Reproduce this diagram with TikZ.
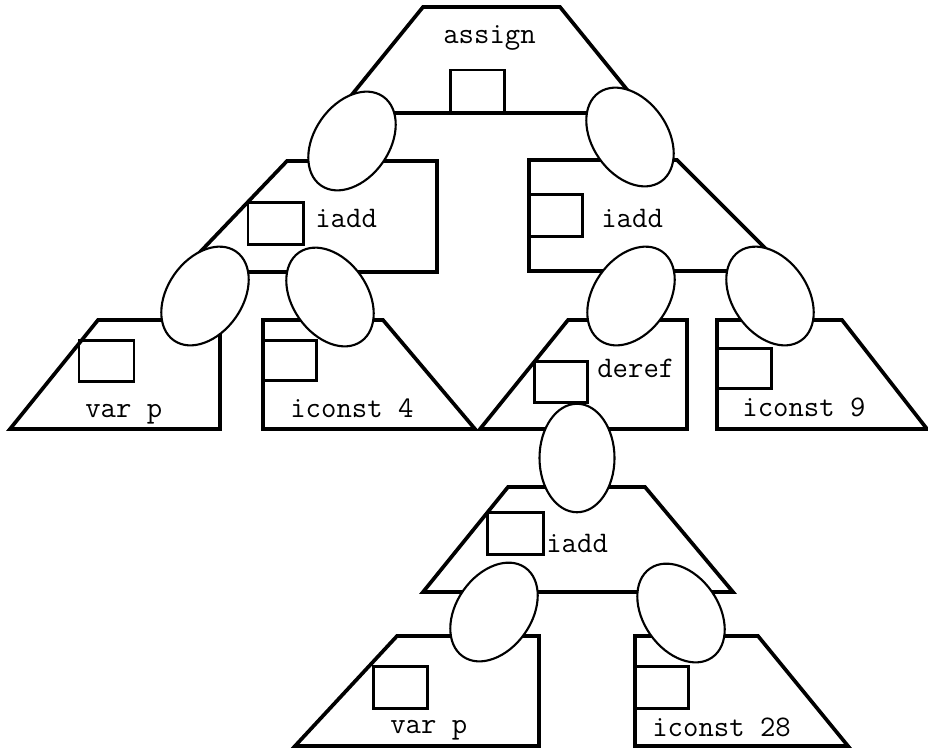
\documentclass[tikz,border=0pt]{standalone}
\usepackage{fontspec}
\usetikzlibrary{shapes.geometric}

\begin{document}
\begin{tikzpicture}[x=0.02cm, y=-0.02cm,
  frame/.style={line width=2.1pt, line join=miter},
  slot/.style={line width=1.7pt},
  link/.style={draw, ellipse, fill=white, line width=1.2pt, inner sep=0pt,
    minimum width=1.5cm, minimum height=2.17cm},
  lbl/.style={anchor=base west, inner sep=0pt,
    font=\ttfamily\fontsize{17}{19}\selectfont}]

  \useasboundingbox (0,0) rectangle (928,751);

  % Tree node outlines
  \foreach \a/\b/\c/\d in {
    {423,7}/{560,7}/{646,113}/{337,113},
    {287,161}/{437,161}/{437,272}/{181,272},
    {98,320}/{220,320}/{220,429}/{10,429},
    {263,320}/{383,320}/{475,429}/{263,429},
    {529,160}/{677,160}/{788,271}/{529,271},
    {568,320}/{687,320}/{687,429}/{480,429},
    {717,320}/{842,320}/{927,429}/{717,429},
    {508,487}/{645,487}/{733,592}/{423,592},
    {397,636}/{539,636}/{539,746}/{295,746},
    {635,636}/{758,636}/{848,746}/{635,746}}
    \draw[frame] (\a) -- (\b) -- (\c) -- (\d) -- cycle;

  % Slots
  \foreach \p/\q in {
    {450,70}/{504,113},
    {248,202}/{303,244},
    {79,340}/{134,381},
    {263,340}/{316,380},
    {529,194}/{582,236},
    {534,361}/{587,402},
    {717,348}/{771,388},
    {487,512}/{543,554},
    {373,666}/{427,708},
    {635,666}/{688,708}}
    \draw[slot] (\p) rectangle (\q);

  % Operator labels
  \node[lbl] (assign) at (443,43) {assign};
  \node[lbl] (iaddL) at (315,227) {iadd};
  \node[lbl] (varpA) at (85,417) {var p};
  \node[lbl] (four) at (290,417) {iconst 4};
  \node[lbl] (iaddR) at (601,227) {iadd};
  \node[lbl] (deref) at (597,377) {deref};
  \node[lbl] (nine) at (742,416) {iconst 9};
  \node[lbl] (iaddB) at (546,552) {iadd};
  \node[lbl] (varpB) at (390,733) {var p};
  \node[lbl] (twenty) at (652,736) {iconst 28};

  % Child links
  \foreach \name/\pos/\tilt in {
    e1/{352,141}/-35,
    e2/{630,137}/35,
    e3/{205,296}/-35,
    e4/{330,297}/35,
    e5/{631,296}/-35,
    e6/{770,296}/35,
    e7/{577,458}/0,
    e8/{494,612}/-35,
    e9/{681,613}/35}
    \node[link, rotate=\tilt] (\name) at (\pos) {};

\end{tikzpicture}
\end{document}
